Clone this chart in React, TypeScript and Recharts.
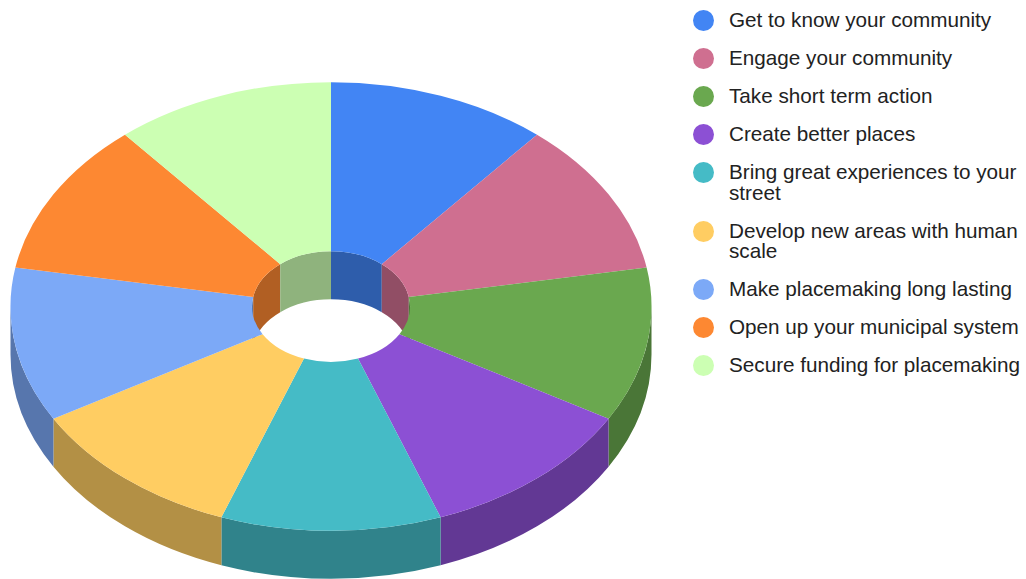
import { PieChart, Pie, Legend } from "recharts";

const steps = [
  "Get to know your community",
  "Engage your community",
  "Take short term action",
  "Create better places",
  "Bring great experiences to your street",
  "Develop new areas with human scale",
  "Make placemaking long lasting",
  "Open up your municipal system",
  "Secure funding for placemaking",
];
const weights = [1, 1, 1, 1, 1, 1, 1, 1, 1];
const colors = [
  "#4285f4",
  "#cf6f90",
  "#6aa84f",
  "#8c50d4",
  "#45bbc6",
  "#ffcd62",
  "#7ca9f7",
  "#fd8832",
  "#ccffb3",
];

const tableData = steps.map((name, i) => ({ name, value: weights[i], fill: colors[i] }));

const TILT = 0.7; // vertical squash of the disc
const DEPTH = 48; // wall height in px
const SHADE = 0.7;

const darken = (hex: string) => {
  const n = parseInt(hex.slice(1), 16);
  const c = [n >> 16, (n >> 8) & 255, n & 255].map((v) => Math.round(v * SHADE));
  return `rgb(${c.join(",")})`;
};

const pt = (cx: number, cy: number, r: number, deg: number) => {
  const a = (deg * Math.PI) / 180;
  return [cx + r * Math.cos(a), cy - r * TILT * Math.sin(a)];
};

// arc running clockwise on screen, from angle a down to angle b
const arc = (cx: number, cy: number, r: number, a: number, b: number) => {
  const [x, y] = pt(cx, cy, r, b);
  return `A${r} ${r * TILT} 0 ${a - b > 180 ? 1 : 0} 1 ${x} ${y}`;
};

const wallPath = (cx: number, cy: number, r: number, a: number, b: number) => {
  if (a <= b) return "";
  const [x0, y0] = pt(cx, cy, r, a);
  const [x1, y1] = pt(cx, cy, r, b);
  const [x2, y2] = pt(cx, cy + DEPTH, r, a);
  return (
    `M${x0} ${y0}` +
    arc(cx, cy, r, a, b) +
    `L${x1} ${y1 + DEPTH}` +
    `A${r} ${r * TILT} 0 0 0 ${x2} ${y2}Z`
  );
};

// side walls: outer rim shows on the front half, hole rim on the back half
const WallShape = (props: any) => {
  const { cx, cy, innerRadius, outerRadius, startAngle, endAngle, fill } = props;
  const d =
    wallPath(cx, cy, outerRadius, Math.min(startAngle, 0), Math.max(endAngle, -180)) +
    wallPath(cx, cy, innerRadius, startAngle, Math.max(endAngle, 0)) +
    wallPath(cx, cy, innerRadius, Math.min(startAngle, -180), endAngle);
  return <path d={d} fill={darken(fill)} />;
};

const TopShape = (props: any) => {
  const { cx, cy, innerRadius, outerRadius, startAngle, endAngle, fill } = props;
  const [x0, y0] = pt(cx, cy, outerRadius, startAngle);
  const [x1, y1] = pt(cx, cy, innerRadius, endAngle);
  const [x2, y2] = pt(cx, cy, innerRadius, startAngle);
  const d =
    `M${x0} ${y0}` +
    arc(cx, cy, outerRadius, startAngle, endAngle) +
    `L${x1} ${y1}` +
    `A${innerRadius} ${innerRadius * TILT} 0 0 0 ${x2} ${y2}Z`;
  return <path d={d} fill={fill} />;
};

const StepLegend = () => (
  <div style={{ width: 333, fontFamily: "'Liberation Sans', Arial, sans-serif", fontSize: 20.7, lineHeight: "20.5px", color: "#222" }}>
    {steps.map((step, i) => (
      <div key={step} style={{ display: "flex", alignItems: "flex-start", paddingBottom: 17.5 }}>
        <span
          style={{
            flex: "none",
            width: 21,
            height: 21,
            marginBottom: -1,
            borderRadius: "50%",
            background: colors[i],
            marginRight: 15,
          }}
        />
        <span style={{ flex: 1 }}>{step}</span>
      </div>
    ))}
  </div>
);

export default function App() {
  const ring = {
    data: tableData,
    dataKey: "value",
    nameKey: "name",
    cx: 331,
    cy: 306.5,
    innerRadius: 79,
    outerRadius: 320.5,
    startAngle: 90,
    endAngle: -270,
    stroke: "none",
    isAnimationActive: false,
  };
  return (
    <div style={{ position: "absolute", left: 0, top: 0 }}>
      <PieChart width={1026} height={579} margin={{ top: 0, right: 0, bottom: 0, left: 0 }}>
        <Pie {...ring} shape={WallShape} />
        <Pie {...ring} shape={TopShape} />
        <Legend
          content={<StepLegend />}
          wrapperStyle={{ left: 693, top: 10, width: 333, bottom: "auto" }}
        />
      </PieChart>
    </div>
  );
}
